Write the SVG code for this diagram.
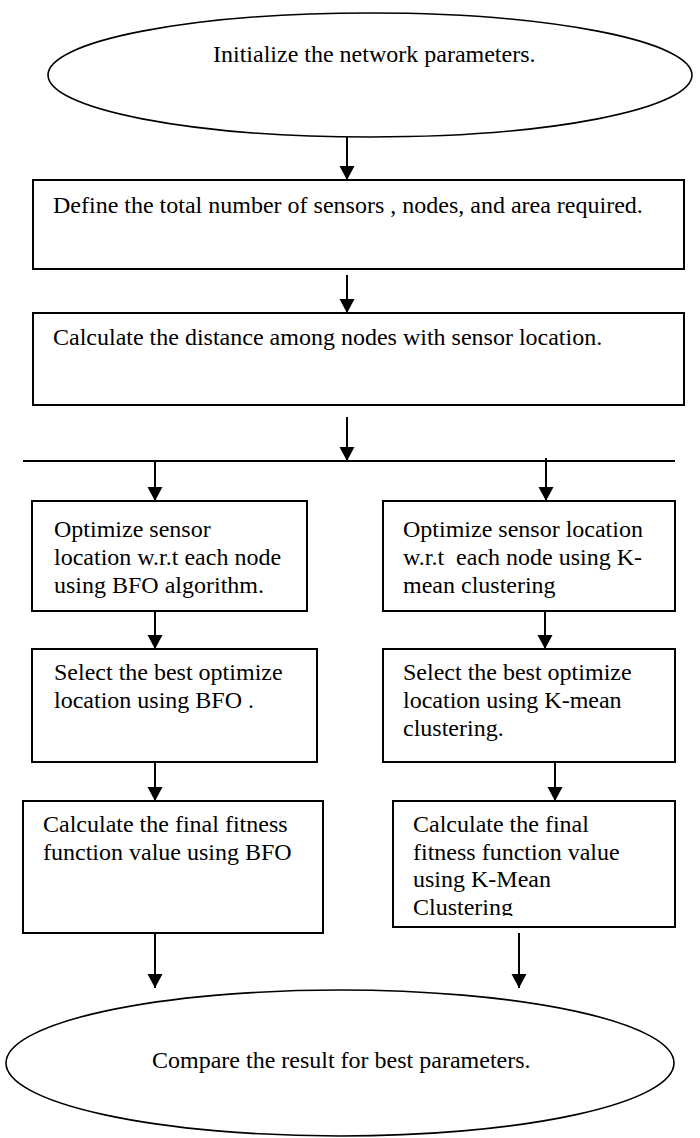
<svg xmlns="http://www.w3.org/2000/svg" width="700" height="1138" viewBox="0 0 700 1138">
<style>
  .shape { fill: #ffffff; stroke: #000000; stroke-width: 2; }
  .ell { fill: #ffffff; stroke: #000000; stroke-width: 1.6; }
  .txt { font-family: "Liberation Serif", "Times New Roman", serif; font-size: 24px; fill: #000000; white-space: pre; }
  .conn { stroke: #000000; stroke-width: 2; fill: none; }
</style>
<defs>
  <marker id="ah" markerUnits="userSpaceOnUse" markerWidth="16" markerHeight="16" refX="14" refY="7.5" orient="auto">
    <path d="M0,0 L14,7.5 L0,15 z" fill="#000000"/>
  </marker>
  <clipPath id="clipR3"><rect x="393" y="801" width="282" height="115"/></clipPath>
</defs>
<rect x="0" y="0" width="700" height="1138" fill="#ffffff"/>

<g id="connectors">
  <line class="conn" x1="347" y1="137" x2="347" y2="180" marker-end="url(#ah)"/>
  <line class="conn" x1="347" y1="275" x2="347" y2="313" marker-end="url(#ah)"/>
  <line class="conn" x1="347" y1="417" x2="347" y2="461" marker-end="url(#ah)"/>
  <line class="conn" x1="23" y1="461" x2="675" y2="461"/>
  <line class="conn" x1="155" y1="461" x2="155" y2="501" marker-end="url(#ah)"/>
  <line class="conn" x1="546" y1="458" x2="546" y2="501" marker-end="url(#ah)"/>
  <line class="conn" x1="155" y1="611" x2="155" y2="649" marker-end="url(#ah)"/>
  <line class="conn" x1="545" y1="611" x2="545" y2="649" marker-end="url(#ah)"/>
  <line class="conn" x1="155" y1="762" x2="155" y2="801" marker-end="url(#ah)"/>
  <line class="conn" x1="555" y1="762" x2="555" y2="801" marker-end="url(#ah)"/>
  <line class="conn" x1="155" y1="933" x2="155" y2="988" marker-end="url(#ah)"/>
  <line class="conn" x1="519" y1="933" x2="519" y2="988" marker-end="url(#ah)"/>
</g>

<g id="start">
  <ellipse class="ell" cx="370" cy="75" rx="322" ry="62"/>
  <text class="txt" x="213" y="62">Initialize the network parameters.</text>
</g>

<g id="define">
  <rect class="shape" x="33" y="180" width="651" height="89"/>
  <text class="txt" x="53" y="213">Define the total number of sensors , nodes, and area required.</text>
</g>

<g id="distance">
  <rect class="shape" x="33" y="313" width="651" height="92"/>
  <text class="txt" x="53" y="345">Calculate the distance among nodes with sensor location.</text>
</g>

<g id="bfo-optimize">
  <rect class="shape" x="32" y="501" width="275" height="110"/>
  <text class="txt" x="54" y="537">Optimize sensor</text>
  <text class="txt" x="54" y="565">location w.r.t each node</text>
  <text class="txt" x="54" y="593">using BFO algorithm.</text>
</g>

<g id="kmean-optimize">
  <rect class="shape" x="383" y="501" width="292" height="110"/>
  <text class="txt" x="403" y="537">Optimize sensor location</text>
  <text class="txt" x="403" y="565">w.r.t  each node using K-</text>
  <text class="txt" x="403" y="593">mean clustering</text>
</g>

<g id="bfo-select">
  <rect class="shape" x="32" y="649" width="285" height="113"/>
  <text class="txt" x="54" y="680">Select the best optimize</text>
  <text class="txt" x="54" y="708">location using BFO .</text>
</g>

<g id="kmean-select">
  <rect class="shape" x="383" y="649" width="292" height="113"/>
  <text class="txt" x="403" y="680">Select the best optimize</text>
  <text class="txt" x="403" y="708">location using K-mean</text>
  <text class="txt" x="403" y="736">clustering.</text>
</g>

<g id="bfo-fitness">
  <rect class="shape" x="23" y="801" width="300" height="132"/>
  <text class="txt" x="43" y="832">Calculate the final fitness</text>
  <text class="txt" x="43" y="860">function value using BFO</text>
</g>

<g id="kmean-fitness">
  <rect class="shape" x="393" y="801" width="282" height="126"/>
  <g clip-path="url(#clipR3)">
    <text class="txt" x="413" y="832">Calculate the final</text>
    <text class="txt" x="413" y="860">fitness function value</text>
    <text class="txt" x="413" y="887">using K-Mean</text>
    <text class="txt" x="413" y="915">Clustering</text>
  </g>
</g>

<g id="compare">
  <ellipse class="ell" cx="340" cy="1063" rx="334" ry="73"/>
  <text class="txt" x="152" y="1068">Compare the result for best parameters.</text>
</g>
</svg>
